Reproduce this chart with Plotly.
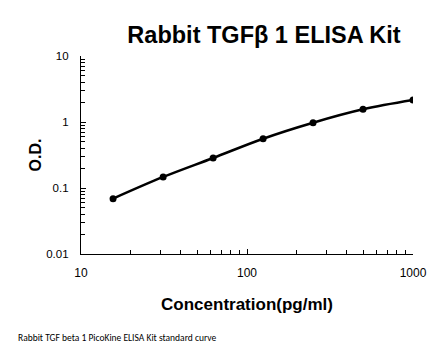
import plotly.graph_objects as go

concentration = [15.6, 31.25, 62.5, 125, 250, 500, 1000]
od = [0.069, 0.147, 0.285, 0.558, 0.975, 1.556, 2.15]
x_ticks = [10, 100, 1000]
x_tick_text = ["10", "100", "1000"]
y_ticks = [0.01, 0.1, 1, 10]
y_tick_text = ["0.01", "0.1", "1", "10"]

# page has an 8px body margin, so the figure is drawn at (8, 8)
W, H = 438, 348
L, R, T, B = 73, 33, 48, 102
PW, PH = W - L - R, H - T - B

fig = go.Figure()
fig.add_trace(go.Scatter(
    x=concentration, y=od, mode="lines+markers",
    line=dict(color="black", width=2.5, shape="spline"),
    marker=dict(color="black", size=7),
    showlegend=False,
))

fig.update_layout(
    width=W, height=H,
    margin=dict(l=L, r=R, t=T, b=B, autoexpand=False),
    paper_bgcolor="white", plot_bgcolor="white",
    font=dict(family="Arial, Liberation Sans, sans-serif", color="black"),
    title=dict(text="<b>Rabbit TGFβ 1 ELISA Kit</b>", x=256/W, xanchor="center",
               y=1 - 27/H, yanchor="middle", font=dict(size=23.5, color="black")),
    annotations=[dict(text="Rabbit TGF beta 1 PicoKine ELISA Kit standard curve",
                      xref="paper", yref="paper", x=(8 - L)/PW, y=-(330 - T - PH)/PH,
                      xanchor="left", yanchor="middle", showarrow=False,
                      font=dict(size=9.5, family="Carlito, Liberation Sans, sans-serif", color="black"))],
)
fig.update_xaxes(
    type="log", range=[1, 3], tickvals=x_ticks, ticktext=x_tick_text,
    showgrid=False, zeroline=False, showline=True, linecolor="black", linewidth=1.2,
    ticks="inside", ticklen=5, tickcolor="black", tickfont=dict(size=12),
    minor=dict(ticks="inside", ticklen=4, tickcolor="black", showgrid=False, dtick="D1"),
    ticklabelstandoff=7, automargin=False,
    title=dict(text="<b>Concentration(pg/ml)</b>", font=dict(size=17), standoff=19),
)
fig.update_yaxes(
    type="log", range=[-2, 1], tickvals=y_ticks, ticktext=y_tick_text,
    showgrid=False, zeroline=False, showline=True, linecolor="black", linewidth=1.2,
    ticks="inside", ticklen=5, tickcolor="black", tickfont=dict(size=11.5),
    minor=dict(ticks="inside", ticklen=4, tickcolor="black", showgrid=False, dtick="D1"),
    ticklabelstandoff=9, automargin=False,
    title=dict(text="<b>O.D.</b>", font=dict(size=16), standoff=0),
)

fig.write_html("out.html")
